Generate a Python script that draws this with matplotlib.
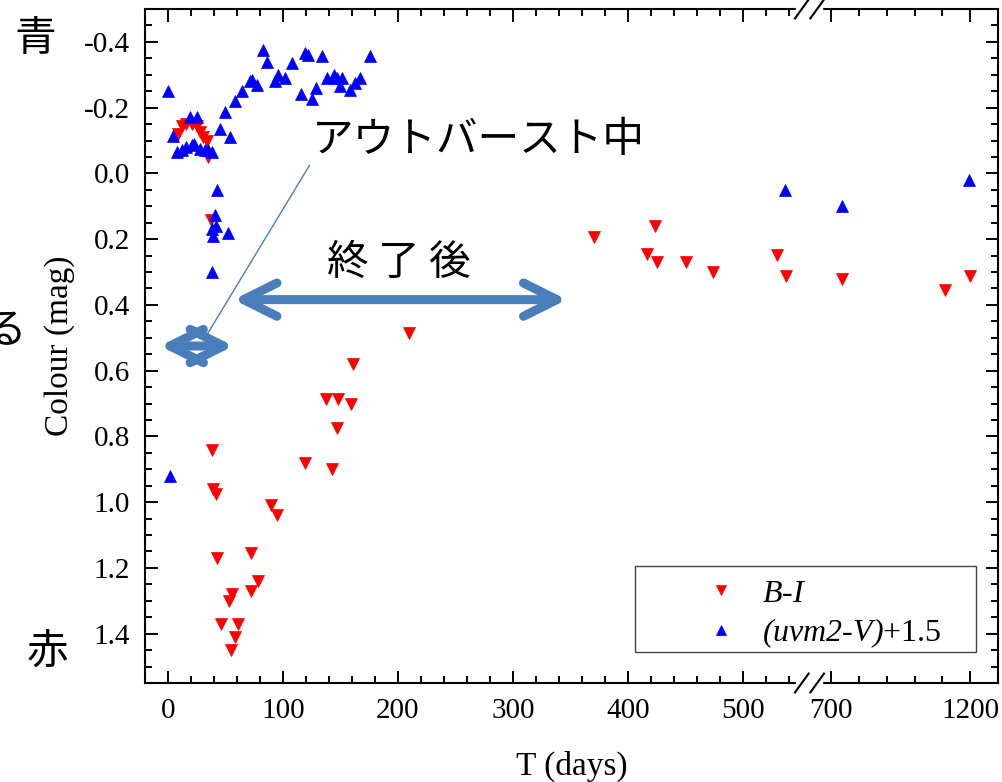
import numpy as np
import matplotlib
matplotlib.use("Agg")
import matplotlib.pyplot as plt
from matplotlib.patches import FancyArrowPatch, Rectangle

plt.rcParams["font.family"] = ["Liberation Serif", "DejaVu Serif"]
plt.rcParams["mathtext.fontset"] = "custom"
plt.rcParams["mathtext.it"] = "Liberation Serif:italic"
plt.rcParams["mathtext.bf"] = "Liberation Serif:italic"
plt.rcParams["mathtext.rm"] = "Liberation Serif"
plt.rcParams["axes.unicode_minus"] = False

JP = ["Noto Sans CJK JP", "DejaVu Sans"]
ARROW_BLUE = "#4a7ebb"

# B-I colour (days, mag)
bi_t = [9, 12, 16, 21, 25, 28, 30, 34, 35, 37,
        38, 39, 42, 43, 46, 53, 55, 56, 58, 61,
        72, 72, 78, 90, 95, 119, 137, 143, 147, 148,
        159, 161, 210, 371, 417, 424, 425, 451, 474, 530,
        538, 740, 1110, 1200]
bi_v = [-0.12, -0.145, -0.15, -0.15, -0.145, -0.125, -0.11, -0.10, -0.05, 0.143,
        0.84, 0.96, 0.975, 1.17, 1.37, 1.30, 1.45, 1.28, 1.41, 1.37,
        1.155, 1.27, 1.24, 1.01, 1.04, 0.88, 0.685, 0.90, 0.775, 0.685,
        0.70, 0.58, 0.485, 0.195, 0.245, 0.16, 0.27, 0.27, 0.30, 0.247,
        0.313, 0.32, 0.355, 0.313]

# (uvm2-V)+1.5 colour (days, mag)
uv_t = [0, 2, 4.5, 8, 12, 16, 19, 21, 23, 25,
        28, 32, 35, 38, 41, 43, 38, 39, 42, 52,
        38, 45, 50, 54, 58, 64, 71, 73, 77, 83,
        86, 93, 96, 102, 108, 116, 119, 122, 125, 129,
        134, 138, 144, 147, 150, 151, 158, 163, 167, 176,
        537, 740, 1196]
uv_v = [-0.25, 0.92, -0.115, -0.065, -0.07, -0.08, -0.17, -0.085, -0.09, -0.17,
        -0.075, -0.07, -0.07, -0.065, 0.128, 0.05, 0.17, 0.19, 0.16, 0.18,
        0.30, -0.135, -0.186, -0.11, -0.22, -0.25, -0.28, -0.285, -0.27, -0.375,
        -0.34, -0.28, -0.30, -0.29, -0.335, -0.24, -0.365, -0.36, -0.225, -0.26,
        -0.357, -0.29, -0.30, -0.29, -0.265, -0.29, -0.255, -0.275, -0.29, -0.357,
        0.05, 0.10, 0.02]

x_major = [0, 100, 200, 300, 400, 500, 700, 1200]
x_minor = [t for t in range(20, 560, 20) if t % 100] + [800, 900, 1000, 1100]
y_major = np.arange(-0.4, 1.41, 0.2)
y_minor = np.arange(-0.45, 1.56, 0.05)

# broken time axis: linear up to B0, compressed after B1
B0, B1, K, GAP = 558.0, 623.5, 0.2417, 0.5


def fwd(x):
    x = np.asarray(x, dtype=float)
    mid = B0 + (x - B0) * GAP / (B1 - B0)
    hi = B0 + GAP + (x - B1) * K
    return np.where(x <= B0, x, np.where(x >= B1, hi, mid))


def inv(y):
    y = np.asarray(y, dtype=float)
    mid = B0 + (y - B0) * (B1 - B0) / GAP
    hi = B1 + (y - B0 - GAP) / K
    return np.where(y <= B0, y, np.where(y >= B0 + GAP, hi, mid))


fig = plt.figure(figsize=(10.03, 7.82), dpi=100)
ax = fig.add_axes([0.1446, 0.1266, 0.8504, 0.8619])
ax.set_xscale("function", functions=(fwd, inv))

ax.plot(bi_t, bi_v, ls="none", marker="v", ms=9, color="#ff0000",
        mec="#ff0000", mew=0.5, label=r"$\mathbf{B}$-$\mathbf{I}$")
ax.plot(uv_t, uv_v, ls="none", marker="^", ms=9, color="#0000ff",
        mec="#0000ff", mew=0.5, label=r"$\mathbf{(uvm2}$-$\mathbf{V)}$+1.5")

ax.set_xlim(-20, 1300)
ax.set_ylim(1.55, -0.5)
ax.set_xticks(x_major)
ax.set_xticks(x_minor, minor=True)
ax.set_xticklabels([str(t) for t in x_major])
ax.set_yticks(y_major)
ax.set_yticks(y_minor, minor=True)
ax.set_yticklabels([f"{v:.1f}" for v in y_major])

for s in ax.spines.values():
    s.set_linewidth(1.5)
ax.tick_params(which="both", direction="in", top=True, right=True, width=1.4)
ax.tick_params(which="major", length=9, labelsize=21, pad=11)
ax.tick_params(which="minor", length=5)

ax.set_xlabel("T (days)", fontsize=24, labelpad=19)
ax.set_ylabel("Colour (mag)", fontsize=24, labelpad=6)

# break marks on top and bottom spines
for yb in (0.0, 1.0):
    ax.add_patch(Rectangle((0.7635, yb - 0.012), 0.03, 0.024, transform=ax.transAxes,
                           color="white", clip_on=False, zorder=5))
    for x0 in (0.762, 0.780):
        ax.plot([x0, x0 + 0.016], [yb - 0.014, yb + 0.014], color="black", lw=1.5,
                transform=ax.transAxes, clip_on=False, zorder=6)

# legend with a separate frame
ax.add_patch(Rectangle((0.574, 0.046), 0.40, 0.128, transform=ax.transAxes,
                       fill=False, ec="#444444", lw=1.0, zorder=4))
ax.legend(loc="upper left", bbox_to_anchor=(0.647, 0.154), frameon=False,
          borderaxespad=0, borderpad=0, handlelength=1.5, handletextpad=0.55,
          labelspacing=0.25, markerscale=0.85, fontsize=23)

# annotations
ax.add_patch(FancyArrowPatch((57, 0.384), (347, 0.384),
                             arrowstyle="<->,head_length=24,head_width=12",
                             lw=6.5, color=ARROW_BLUE, shrinkA=0, shrinkB=0,
                             capstyle="round", joinstyle="round", zorder=3))
ax.add_patch(FancyArrowPatch((-7, 0.525), (57, 0.525),
                             arrowstyle="<->,head_length=24,head_width=12",
                             lw=6.5, color=ARROW_BLUE, shrinkA=0, shrinkB=0,
                             capstyle="round", joinstyle="round", zorder=3))
ax.plot([34, 123], [0.49, -0.024], color=ARROW_BLUE, lw=1.0, zorder=3)

ax.text(270, -0.10, "アウトバースト中", family=JP, fontsize=30,
        ha="center", va="center")
ax.text(201, 0.274, "終 了 後", family=JP, fontsize=30, ha="center", va="center")

fig.text(35 / 1003, 1 - 40 / 782, "青", family=JP, fontsize=30, ha="center", va="center")
fig.text(48 / 1003, 1 - 653 / 782, "赤", family=JP, fontsize=30, ha="center", va="center")
fig.text(26 / 1003, 1 - 332 / 782, "る", family=JP, fontsize=30, ha="right", va="center")

fig.savefig("out.png", dpi=100)
